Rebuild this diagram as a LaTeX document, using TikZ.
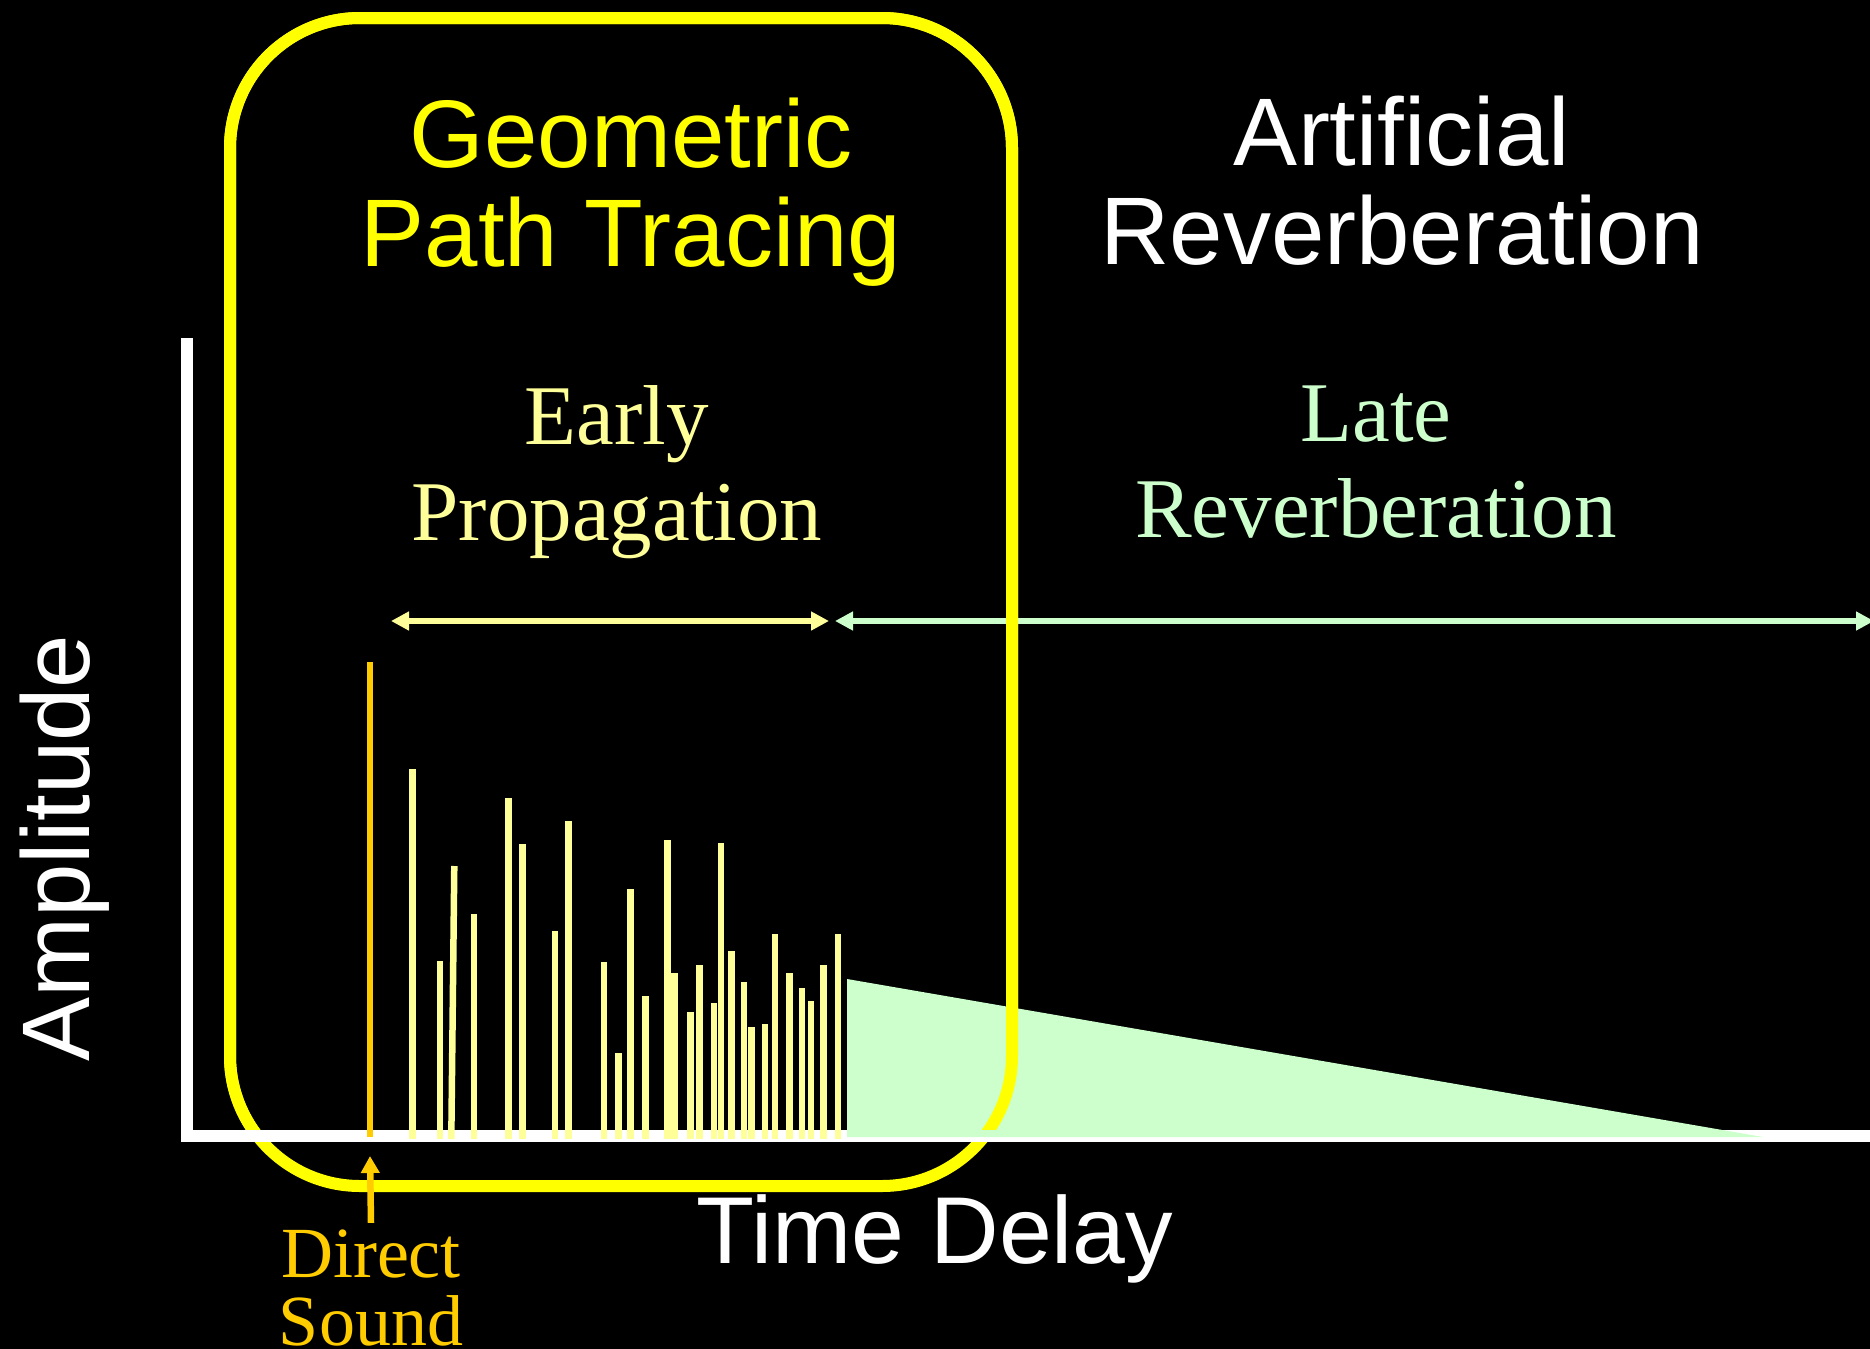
\documentclass[tikz,border=0pt]{standalone}
\usepackage{fontspec}
\setmainfont{Liberation Serif}
\newfontfamily\arialf{Liberation Sans}
\usetikzlibrary{arrows.meta}
\definecolor{gold}{HTML}{FFCC00}
\definecolor{paleyellow}{HTML}{FFFF99}
\definecolor{palegreen}{HTML}{CCFFCC}
\definecolor{brightyellow}{HTML}{FFFF00}
\begin{document}
\begin{tikzpicture}[x=0.5pt,y=-0.5pt,
  bar/.style={paleyellow, line width=3.25pt},
  gbox/.style={brightyellow, line width=6pt, rounded corners=65pt},
  spanarrow/.style={line width=3.25pt, {Triangle[length=9pt,width=9pt]}-{Triangle[length=9pt,width=9pt]}},
  titletext/.style={font=\arialf\fontsize{48}{49.5}\selectfont, align=center, anchor=base, inner sep=0pt},
  phasetext/.style={font=\fontsize{42.5}{48}\selectfont, align=center, anchor=base, inner sep=0pt},
  axistext/.style={font=\arialf\fontsize{48}{50}\selectfont, white, anchor=base, inner sep=0pt}
]
\fill[black] (0,0) rectangle (1870,1349);
\useasboundingbox (0,0) rectangle (1870,1349);

% rounded frame
\draw[gbox] (230,18) rectangle (1012,1186);

% axes
\draw[white, line width=6pt] (187,338) -- (187,1136) -- (1880,1136);

% late reverberation decay
\fill[palegreen] (847,979) -- (847,1137) -- (1763,1137) -- cycle;

% early reflections
\foreach \x/\t in {412.3/769, 440/961, 474/914, 508.3/798, 522.3/844, 555/931,
  568.7/821, 604/962, 618.7/1053, 630.7/889, 645.7/996, 667.3/840, 674.7/973,
  690.7/1012, 699.7/965, 714/1003, 721/843, 731.7/951, 744/982, 751.3/1027,
  765/1024, 775/934, 789.7/973, 802/988, 811/1001, 823.3/965, 838/934}
  \draw[bar] (\x,\t) -- (\x,1139);
\draw[bar] (454.3,866) -- (451.3,1139);

% direct sound bar
\draw[gold, line width=3.25pt] (370,662) -- (370,1137);

% span arrows
\coordinate (epL) at (391,621);
\coordinate (epR) at (829,621);
\coordinate (lrL) at (835,621);
\coordinate (lrR) at (1874,621);
\draw[spanarrow, paleyellow] (epL) -- (epR);
\draw[spanarrow, palegreen] (lrL) -- (lrR);

% frame again above the axis (over the decay and arrows)
\begin{scope}
\clip (0,0) rectangle (1870,1129);
\draw[gbox] (230,18) rectangle (1012,1186);
\end{scope}

% labels (anchor base = baseline of the last line)
\node[titletext, brightyellow] (geo) at (631,266) {Geometric\\Path Tracing};
\node[titletext, white] (art) at (1402,264) {Artificial\\Reverberation};
\node[phasetext, paleyellow] (early) at (617,540) {Early\\Propagation};
\node[phasetext, palegreen] (late) at (1376,537) {Late\\Reverberation};
\node[axistext, rotate=90] (amp) at (89,848) {Amplitude};
\node[axistext, font=\arialf\fontsize{47.5}{50}\selectfont] (td) at (935,1263) {Time Delay};
\node[font=\fontsize{36}{34}\selectfont, gold, align=center, anchor=base, inner sep=0pt] (ds) at (371,1345) {Direct\\Sound};

% direct sound pointer
\coordinate (dsTip) at (370,1156);
\draw[gold, line width=3.25pt, -{Triangle[length=8.5pt,width=9pt]}] ([yshift=3pt]ds.north) -- (dsTip);
\end{tikzpicture}
\end{document}
